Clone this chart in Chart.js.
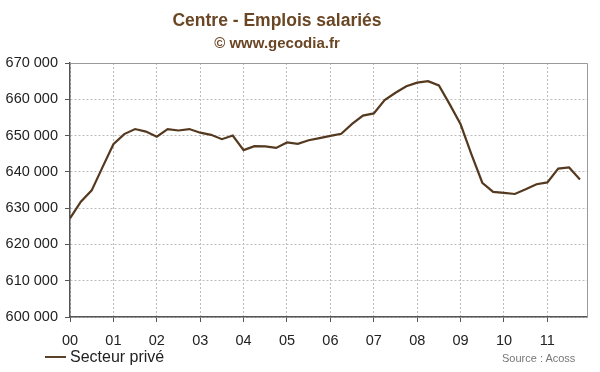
<!DOCTYPE html>
<html>
<head>
<meta charset="utf-8">
<script src="https://cdn.jsdelivr.net/npm/chart.js@4/dist/chart.umd.min.js"></script>
<style>
  html, body { margin: 0; padding: 0; background: #fff; }
  #wrap { position: relative; width: 600px; height: 372px; overflow: hidden; font-family: "Liberation Sans", Arial, sans-serif; }
  #c { position: absolute; left: 0; top: 0; }
  .t { position: absolute; white-space: nowrap; }
  #title { left: 0; width: 554px; text-align: center; top: 10px; font-size: 17.5px; font-weight: bold; color: #6b4624; }
  #sub { left: 0; width: 554px; text-align: center; top: 34px; font-size: 15px; font-weight: bold; color: #6b4624; }
  #leg { left: 45px; top: 348px; font-size: 16px; color: #222; }
  #leg span.l { display: inline-block; width: 21px; height: 2px; background: #5a4128; vertical-align: middle; margin-right: 4px; position: relative; top: -1px; }
  #src { left: 502px; top: 352px; font-size: 11px; color: #777; }
</style>
</head>
<body>
<div id="wrap">
  <canvas id="c" width="600" height="372"></canvas>
  <div class="t" id="title">Centre - Emplois salariés</div>
  <div class="t" id="sub">© www.gecodia.fr</div>
  <div class="t" id="leg"><span class="l"></span>Secteur privé</div>
  <div class="t" id="src">Source : Acoss</div>
</div>
<script>
const yearLabels = ["00","01","02","03","04","05","06","07","08","09","10","11"];
const seriesName = "Secteur privé";
const secteurPrive = [
  627200, 631800, 634900, 641300, 647600, 650400, 651800, 651100,
  649700, 651800, 651400, 651800, 650800, 650200, 649000, 650000,
  646000, 647100, 647000, 646600, 648100, 647700, 648700, 649300,
  649900, 650500, 653200, 655500, 656100, 659800, 661800, 663600,
  664600, 665000, 663800, 658600, 653100, 644800, 637000, 634500,
  634200, 633900, 635200, 636600, 637100, 640900, 641200, 637900
];
const yTicks = [600000, 610000, 620000, 630000, 640000, 650000, 660000, 670000];

const points = secteurPrive.map((v, i) => ({ x: i, y: v }));

const frame = {
  id: 'frame',
  afterDraw(chart) {
    const { ctx, chartArea: a } = chart;
    ctx.save();
    ctx.strokeStyle = '#9a9a9a';
    ctx.lineWidth = 1;
    ctx.beginPath();
    ctx.moveTo(a.left, a.top + 0.5);
    ctx.lineTo(a.right + 0.5, a.top + 0.5);
    ctx.lineTo(a.right + 0.5, a.bottom);
    ctx.stroke();
    ctx.restore();
  }
};

new Chart(document.getElementById('c'), {
  type: 'line',
  data: {
    datasets: [{
      label: seriesName,
      data: points,
      borderColor: '#55391f',
      borderWidth: 2.2,
      pointRadius: 0,
      tension: 0,
      fill: false
    }]
  },
  options: {
    responsive: false,
    animation: false,
    layout: { padding: { top: 63, right: 13, left: 0, bottom: 0 } },
    plugins: { legend: { display: false }, title: { display: false }, tooltip: { enabled: false } },
    scales: {
      x: {
        type: 'linear',
        min: 0,
        max: 47.65,
        afterFit(s) { s.height = 55; },
        afterBuildTicks(s) { s.ticks = yearLabels.map((_, k) => ({ value: k * 4 })); },
        ticks: {
          callback: (v) => yearLabels[Math.round(v / 4)],
          font: { family: '"Liberation Sans", Arial, sans-serif', size: 14.5 },
          color: '#222',
          padding: 10,
          maxRotation: 0,
          autoSkip: false
        },
        grid: { color: '#bdbdbd', tickColor: '#555', tickLength: 5, lineWidth: 1, drawTicks: true },
        border: { color: '#555', width: 1.5, dash: [2, 2] }
      },
      y: {
        min: 600000,
        max: 670000,
        afterFit(s) { s.width = 70; },
        afterBuildTicks(s) { s.ticks = yTicks.map(v => ({ value: v })); },
        ticks: {
          callback: (v) => String(v).replace(/\B(?=(\d{3})+(?!\d))/g, ' '),
          font: { family: '"Liberation Sans", Arial, sans-serif', size: 14.5 },
          color: '#222',
          padding: 7
        },
        grid: { color: '#bdbdbd', tickColor: '#555', tickLength: 5, lineWidth: 1 },
        border: { color: '#555', width: 1.5, dash: [2, 2] }
      }
    }
  },
  plugins: [frame]
});
</script>
</body>
</html>
